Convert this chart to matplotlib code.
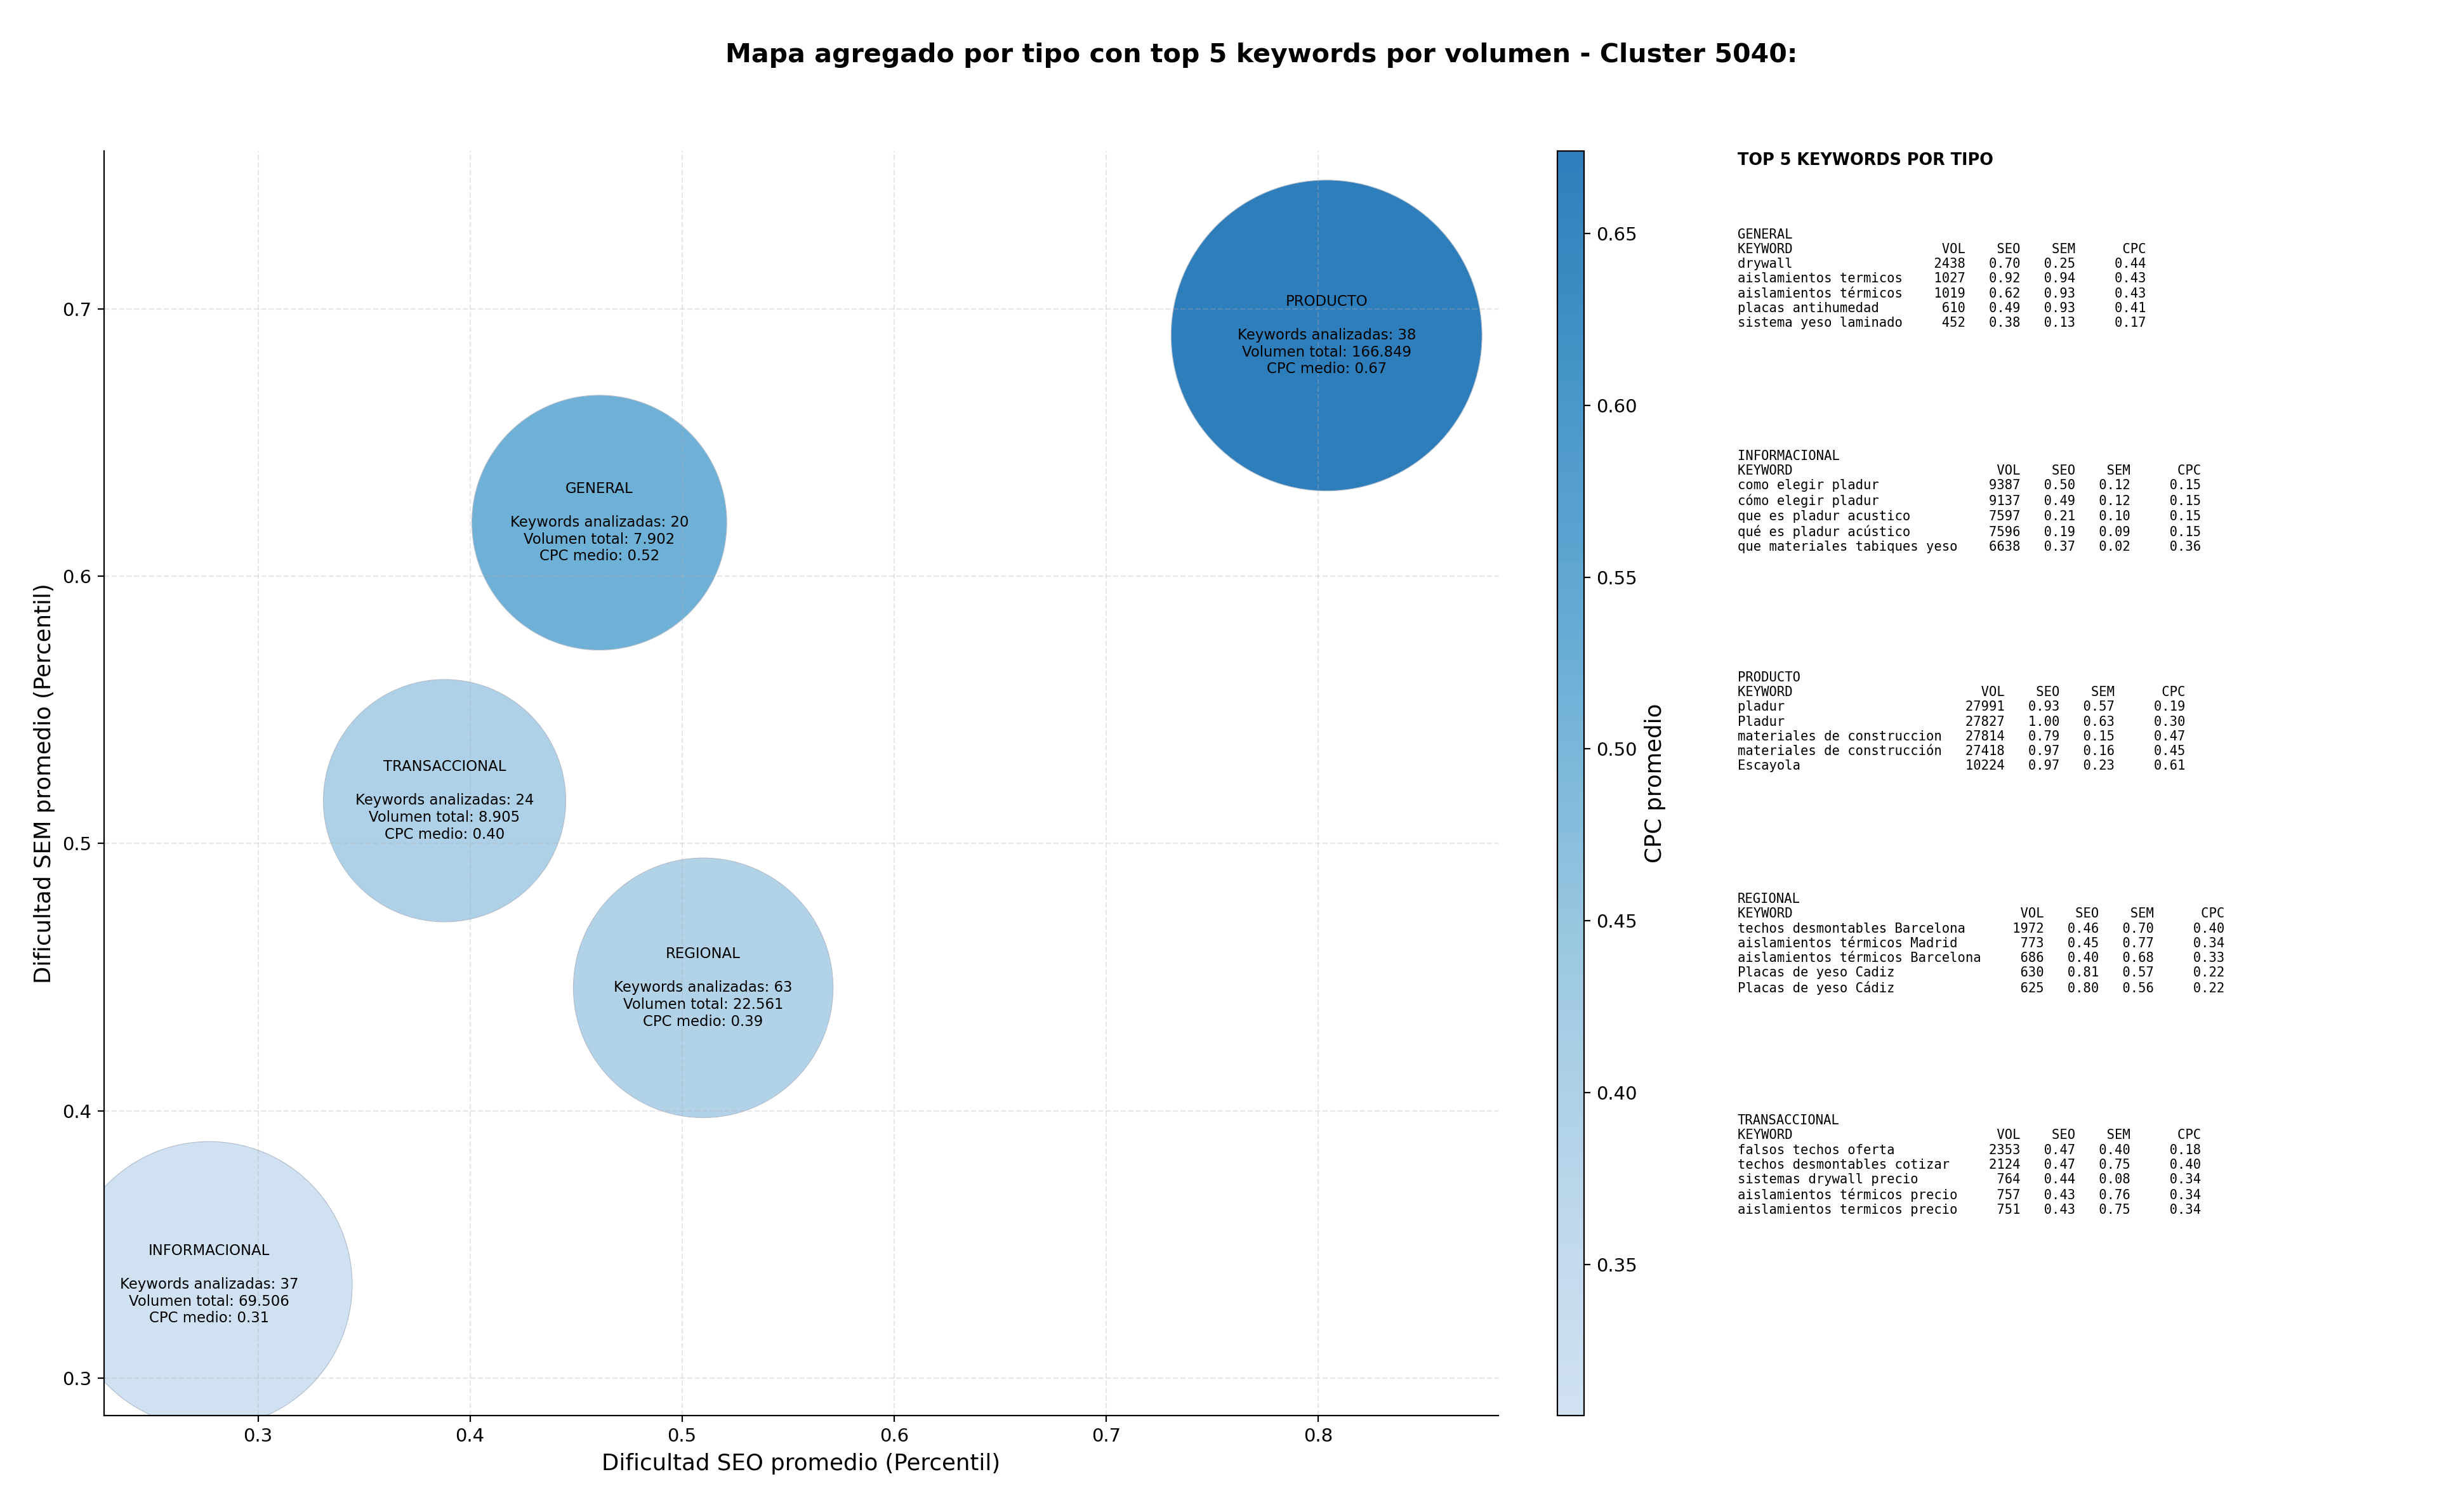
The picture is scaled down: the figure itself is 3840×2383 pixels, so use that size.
import numpy as np
import matplotlib
matplotlib.use("Agg")
import matplotlib.pyplot as plt
from matplotlib.colors import LinearSegmentedColormap

# Aggregated values per type
tipos = ["GENERAL", "INFORMACIONAL", "PRODUCTO", "REGIONAL", "TRANSACCIONAL"]
seo_medio = [0.461, 0.277, 0.804, 0.510, 0.388]
sem_medio = [0.620, 0.335, 0.690, 0.446, 0.516]
n_keywords = [20, 37, 38, 63, 24]
volumen_total = [7902, 69506, 166849, 22561, 8905]
cpc_medio = [0.52, 0.306, 0.674, 0.39, 0.40]

# Top 5 keywords by volume for each type
top_keywords = {
    "GENERAL": ["drywall", "aislamientos termicos", "aislamientos térmicos",
                "placas antihumedad", "sistema yeso laminado"],
    "INFORMACIONAL": ["como elegir pladur", "cómo elegir pladur", "que es pladur acustico",
                      "qué es pladur acústico", "que materiales tabiques yeso"],
    "PRODUCTO": ["pladur", "Pladur", "materiales de construccion",
                 "materiales de construcción", "Escayola"],
    "REGIONAL": ["techos desmontables Barcelona", "aislamientos térmicos Madrid",
                 "aislamientos térmicos Barcelona", "Placas de yeso Cadiz", "Placas de yeso Cádiz"],
    "TRANSACCIONAL": ["falsos techos oferta", "techos desmontables cotizar", "sistemas drywall precio",
                      "aislamientos térmicos precio", "aislamientos termicos precio"],
}
top_vol = {
    "GENERAL": [2438, 1027, 1019, 610, 452],
    "INFORMACIONAL": [9387, 9137, 7597, 7596, 6638],
    "PRODUCTO": [27991, 27827, 27814, 27418, 10224],
    "REGIONAL": [1972, 773, 686, 630, 625],
    "TRANSACCIONAL": [2353, 2124, 764, 757, 751],
}
top_seo = {
    "GENERAL": [0.70, 0.92, 0.62, 0.49, 0.38],
    "INFORMACIONAL": [0.50, 0.49, 0.21, 0.19, 0.37],
    "PRODUCTO": [0.93, 1.00, 0.79, 0.97, 0.97],
    "REGIONAL": [0.46, 0.45, 0.40, 0.81, 0.80],
    "TRANSACCIONAL": [0.47, 0.47, 0.44, 0.43, 0.43],
}
top_sem = {
    "GENERAL": [0.25, 0.94, 0.93, 0.93, 0.13],
    "INFORMACIONAL": [0.12, 0.12, 0.10, 0.09, 0.02],
    "PRODUCTO": [0.57, 0.63, 0.15, 0.16, 0.23],
    "REGIONAL": [0.70, 0.77, 0.68, 0.57, 0.56],
    "TRANSACCIONAL": [0.40, 0.75, 0.08, 0.76, 0.75],
}
top_cpc = {
    "GENERAL": [0.44, 0.43, 0.43, 0.41, 0.17],
    "INFORMACIONAL": [0.15, 0.15, 0.15, 0.15, 0.36],
    "PRODUCTO": [0.19, 0.30, 0.47, 0.45, 0.61],
    "REGIONAL": [0.40, 0.34, 0.33, 0.22, 0.22],
    "TRANSACCIONAL": [0.18, 0.40, 0.34, 0.34, 0.34],
}

# Bubble marker sizes (points^2), style only
bubble_sizes = [20900, 26300, 31100, 21700, 18900]

cmap = LinearSegmentedColormap.from_list("blues_cut", plt.cm.Blues(np.linspace(0.2, 0.70, 256)))

fig = plt.figure(figsize=(19.2, 11.915), dpi=200)
ax = fig.add_axes([0.0427, 0.0638, 0.5721, 0.8363])
cax = fig.add_axes([0.639, 0.0638, 0.011, 0.8363])

sc = ax.scatter(seo_medio, sem_medio, s=bubble_sizes, c=cpc_medio, cmap=cmap,
                vmin=min(cpc_medio), vmax=max(cpc_medio), edgecolors="#b0bccb", linewidths=0.4)

for i, tipo in enumerate(tipos):
    vol_txt = f"{volumen_total[i]:,}".replace(",", ".")
    label = (f"{tipo}\n\nKeywords analizadas: {n_keywords[i]}\n"
             f"Volumen total: {vol_txt}\nCPC medio: {cpc_medio[i]:.2f}")
    ax.text(seo_medio[i], sem_medio[i], label, ha="center", va="center",
            multialignment="center", fontsize=8.2)

ax.set_xlim(0.2274, 0.885)
ax.set_ylim(0.286, 0.759)
ax.set_xticks([0.3, 0.4, 0.5, 0.6, 0.7, 0.8])
ax.set_yticks([0.3, 0.4, 0.5, 0.6, 0.7])
ax.tick_params(labelsize=10.5)
ax.grid(True, linestyle="--", alpha=0.3)
ax.spines["top"].set_visible(False)
ax.spines["right"].set_visible(False)
ax.set_xlabel("Dificultad SEO promedio (Percentil)", fontsize=12.8)
ax.set_ylabel("Dificultad SEM promedio (Percentil)", fontsize=12.8)

cbar = fig.colorbar(sc, cax=cax)
cbar.set_ticks([0.35, 0.40, 0.45, 0.50, 0.55, 0.60, 0.65])
cbar.ax.tick_params(labelsize=10.5)
cbar.set_label("CPC promedio", fontsize=12.8)

fig.suptitle("Mapa agregado por tipo con top 5 keywords por volumen - Cluster 5040:",
             fontsize=14.8, fontweight="bold", x=0.5175, y=0.972)

# Right side table
fig.text(0.713, 0.894, "TOP 5 KEYWORDS POR TIPO", fontsize=9.2, fontweight="bold", va="center")
y0 = 0.849
for j, tipo in enumerate(tipos):
    kws = top_keywords[tipo]
    w = max(len(k) for k in kws)
    lines = [tipo, f"{'KEYWORD':<{w}} {'VOL':>7} {'SEO':>6} {'SEM':>6} {'CPC':>8}"]
    for k, v, s1, s2, c in zip(kws, top_vol[tipo], top_seo[tipo], top_sem[tipo], top_cpc[tipo]):
        lines.append(f"{k:<{w}} {v:>7} {s1:>6.2f} {s2:>6.2f} {c:>8.2f}")
    fig.text(0.713, y0 - j * 0.1465, "\n".join(lines), fontsize=7.4,
             family="DejaVu Sans Mono", va="top", ha="left", linespacing=1.2)

fig.savefig("out.png", dpi=200)
